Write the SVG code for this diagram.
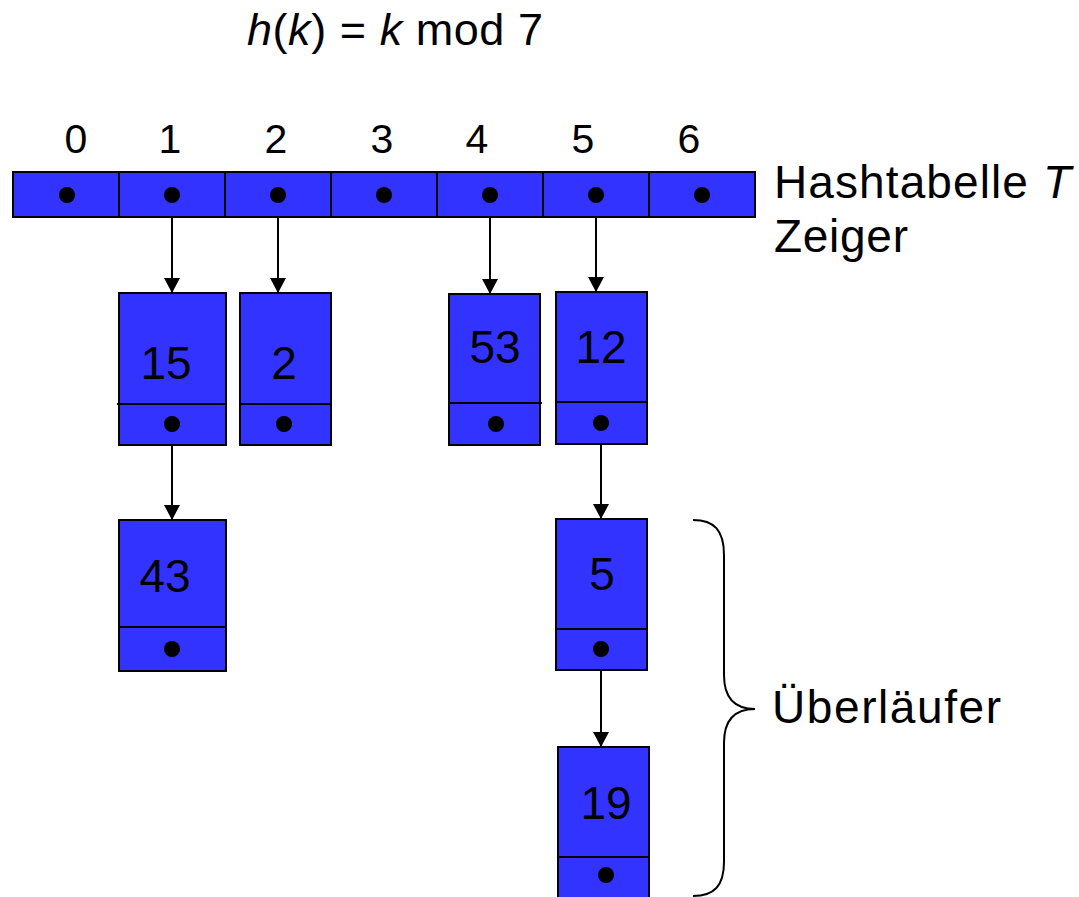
<svg xmlns="http://www.w3.org/2000/svg" width="1079" height="897" viewBox="0 0 1079 897">
  <style>
    .cell { fill: #3333ff; stroke: #000; stroke-width: 2; }
    .sep { stroke: #000; stroke-width: 2; fill: none; }
    .dot { fill: #000; }
    .t { font-family: "Liberation Sans", Arial, sans-serif; fill: #000; }
    .key { font-size: 46px; text-anchor: middle; }
    .idx { font-size: 41px; text-anchor: middle; }
    .lbl { font-size: 46px; }
    .link { stroke: #000; stroke-width: 2; fill: none; marker-end: url(#arrow); }
  </style>
  <defs>
    <marker id="arrow" markerUnits="userSpaceOnUse" markerWidth="16" markerHeight="16" refX="15" refY="8" orient="auto">
      <path d="M0,0 L15,8 L0,16 Z" fill="#000"/>
    </marker>
  </defs>

  <rect width="1079" height="897" fill="#fff"/>

  <!-- hash function -->
  <text class="t" x="247" y="45" font-size="45" textLength="296"><tspan font-style="italic">h</tspan>(<tspan font-style="italic">k</tspan>) = <tspan font-style="italic">k</tspan> mod 7</text>

  <!-- slot indices -->
  <g id="indices" class="t idx">
    <text x="76" y="153">0</text>
    <text x="170" y="153">1</text>
    <text x="276" y="153">2</text>
    <text x="382" y="153">3</text>
    <text x="477" y="153">4</text>
    <text x="583" y="153">5</text>
    <text x="689" y="153">6</text>
  </g>

  <!-- hash table T -->
  <g id="table">
    <rect class="cell" x="13" y="172" width="742" height="45"/>
    <path class="sep" d="M119,172V217 M225,172V217 M331,172V217 M437,172V217 M543,172V217 M649,172V217"/>
    <circle class="dot" cx="67" cy="195" r="8"/>
    <circle class="dot" cx="172" cy="195" r="8"/>
    <circle class="dot" cx="278" cy="195" r="8"/>
    <circle class="dot" cx="384" cy="195" r="8"/>
    <circle class="dot" cx="490" cy="195" r="8"/>
    <circle class="dot" cx="596" cy="195" r="8"/>
    <circle class="dot" cx="702" cy="195" r="8"/>
  </g>

  <g id="labels" class="t lbl">
    <text x="774" y="198" textLength="297">Hashtabelle <tspan font-style="italic">T</tspan></text>
    <text x="774" y="252" textLength="134">Zeiger</text>
    <text x="772" y="723" textLength="229">Überläufer</text>
  </g>

  <!-- list nodes -->
  <g id="n15">
    <rect class="cell" x="119" y="293" width="107" height="152"/>
    <path class="sep" d="M117,404H226"/>
    <circle class="dot" cx="172" cy="424" r="8"/>
    <text class="t key" x="166" y="379">15</text>
  </g>
  <g id="n2">
    <rect class="cell" x="240" y="293" width="91" height="152"/>
    <path class="sep" d="M240,404H331"/>
    <circle class="dot" cx="284" cy="424" r="8"/>
    <text class="t key" x="284" y="379">2</text>
  </g>
  <g id="n53">
    <rect class="cell" x="449" y="294" width="91" height="151"/>
    <path class="sep" d="M449,403H542"/>
    <circle class="dot" cx="496" cy="424" r="8"/>
    <text class="t key" x="495" y="363">53</text>
  </g>
  <g id="n12">
    <rect class="cell" x="556" y="292" width="91" height="152"/>
    <path class="sep" d="M556,402H647"/>
    <circle class="dot" cx="601" cy="423" r="8"/>
    <text class="t key" x="601" y="363">12</text>
  </g>
  <g id="n43">
    <rect class="cell" x="119" y="520" width="107" height="151"/>
    <path class="sep" d="M119,627H226"/>
    <circle class="dot" cx="172" cy="649" r="8"/>
    <text class="t key" x="165" y="592">43</text>
  </g>
  <g id="n5">
    <rect class="cell" x="556" y="519" width="91" height="151"/>
    <path class="sep" d="M556,629H647"/>
    <circle class="dot" cx="601" cy="649" r="8"/>
    <text class="t key" x="602" y="590">5</text>
  </g>
  <g id="n19">
    <rect class="cell" x="558" y="747" width="91" height="152"/>
    <path class="sep" d="M558,857H649"/>
    <circle class="dot" cx="606" cy="875" r="8"/>
    <text class="t key" x="606" y="819">19</text>
  </g>

  <!-- pointers -->
  <g id="connectors">
    <path class="link" d="M172,217V293"/>
    <path class="link" d="M278,217V293"/>
    <path class="link" d="M490,217V294"/>
    <path class="link" d="M596,217V292"/>
    <path class="link" d="M172,445V520"/>
    <path class="link" d="M601,444V519"/>
    <path class="link" d="M601,670V747"/>
  </g>

  <!-- brace over the overflow chain -->
  <path id="brace" d="M693,520 C714,520 724,530 724,555 V675 C724,698 735,709 755,709 C735,709 724,720 724,743 V862 C724,886 714,896 693,896" fill="none" stroke="#000" stroke-width="2"/>
</svg>
